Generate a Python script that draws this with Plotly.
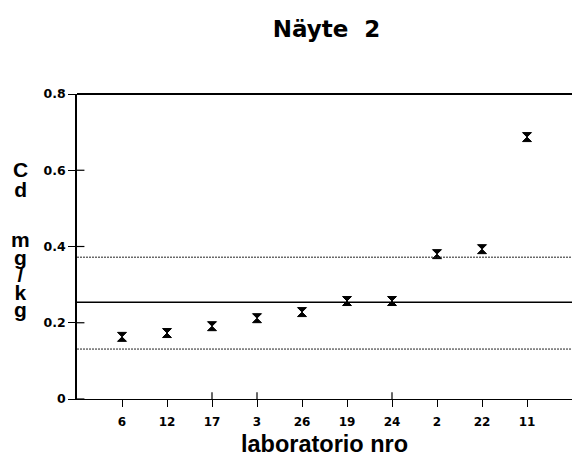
import plotly.graph_objects as go

# Laboratory codes, ordered by result
labs = ["6", "12", "17", "3", "26", "19", "24", "2", "22", "11"]
cd_values = [0.163, 0.173, 0.191, 0.212, 0.228, 0.257, 0.257, 0.380, 0.393, 0.687]

# Reference value and acceptance limits (mg/kg)
ref_value = 0.254
upper_limit = 0.372
lower_limit = 0.131

y_ticks = [0, 0.2, 0.4, 0.6, 0.8]
y_ticktext = ["0", "0.2", "0.4", "0.6", "0.8"]

# Vertical axis label: element and unit, stacked one character per row
ylabel_element = ["C", "d"]
ylabel_unit = ["m", "g", "/", "k", "g"]

SANS = "Liberation Sans, Arial, sans-serif"
WIDE = "DejaVu Sans, sans-serif"

W, H = 572, 457
L, R, T, B = 77, 0, 94, 58
plot_w = W - L - R
plot_h = H - T - B

fig = go.Figure()

fig.add_trace(go.Scatter(
    x=labs, y=cd_values, mode="markers",
    marker=dict(symbol="hourglass", size=9, color="black",
                line=dict(color="black", width=1)),
    showlegend=False, hoverinfo="x+y",
))

# Reference line and dotted limits
fig.add_hline(y=ref_value, line=dict(color="black", width=1.5))
for lim in (upper_limit, lower_limit):
    fig.add_hline(y=lim, line=dict(color="#222222", width=1, dash="2px,1px"))

# Inner halves of the crossing tick marks
for lab in labs:
    fig.add_shape(type="line", xref="x", yref="paper", x0=lab, x1=lab,
                  y0=0, y1=0.022, line=dict(color="black", width=1.2))
for yv in y_ticks:
    fig.add_shape(type="line", xref="paper", yref="y", x0=0, x1=0.015,
                  y0=yv, y1=yv, line=dict(color="black", width=1.2))

# Top frame line drawn heavier than the axes
fig.add_shape(type="line", xref="paper", yref="paper", x0=0, x1=1, y0=1, y1=1,
              line=dict(color="black", width=2.2))

fig.update_layout(
    width=W, height=H,
    margin=dict(l=L, r=R, t=T, b=B),
    paper_bgcolor="white", plot_bgcolor="white",
    font=dict(family=SANS, color="black"),
    title=dict(text="<b>Näyte&nbsp; 2</b>", x=(326.5 / W), xanchor="center",
               y=1 - 29 / H, yanchor="middle",
               font=dict(size=23, family=WIDE, color="black")),
    xaxis=dict(
        type="category", range=[-1, 10],
        showgrid=False, zeroline=False,
        showline=True, linecolor="black", linewidth=1.3,
        ticks="outside", ticklen=7, tickwidth=1.2, tickcolor="black",
        ticklabelstandoff=4,
        tickfont=dict(size=12, family=WIDE, color="black"),
        tickprefix="<b>", ticksuffix="</b>",
        title=dict(text="<b>laboratorio nro</b>", standoff=11,
                   font=dict(size=23.5, family=SANS, color="black")),
    ),
    yaxis=dict(
        range=[0, 0.8],
        tickvals=y_ticks, ticktext=["<b>" + t + "</b>" for t in y_ticktext],
        showgrid=False, zeroline=False,
        showline=True, linecolor="black", linewidth=1.5,
        ticks="outside", ticklen=7, tickwidth=1.2, tickcolor="black",
        tickfont=dict(size=12.5, family=WIDE, color="black"),
    ),
)


def stacked(chars, glyph_px):
    # Small base size keeps the rows tight; each glyph is enlarged by a span
    return "<br>".join(
        '<span style="font-size:%dpx"><b>%s</b></span>' % (glyph_px, c) for c in chars
    )


# Element symbol block and unit block, centred on their rows (px from top)
for chars, base, centre_py in ((ylabel_element, 15, 179), (ylabel_unit, 13.5, 274)):
    fig.add_annotation(text=stacked(chars, 21), xref="paper", yref="paper",
                       x=(20 - L) / plot_w, y=(H - B - centre_py) / plot_h,
                       xanchor="center", yanchor="middle",
                       showarrow=False, align="center",
                       font=dict(size=base, family=SANS, color="black"))

fig.write_html("out.html")
